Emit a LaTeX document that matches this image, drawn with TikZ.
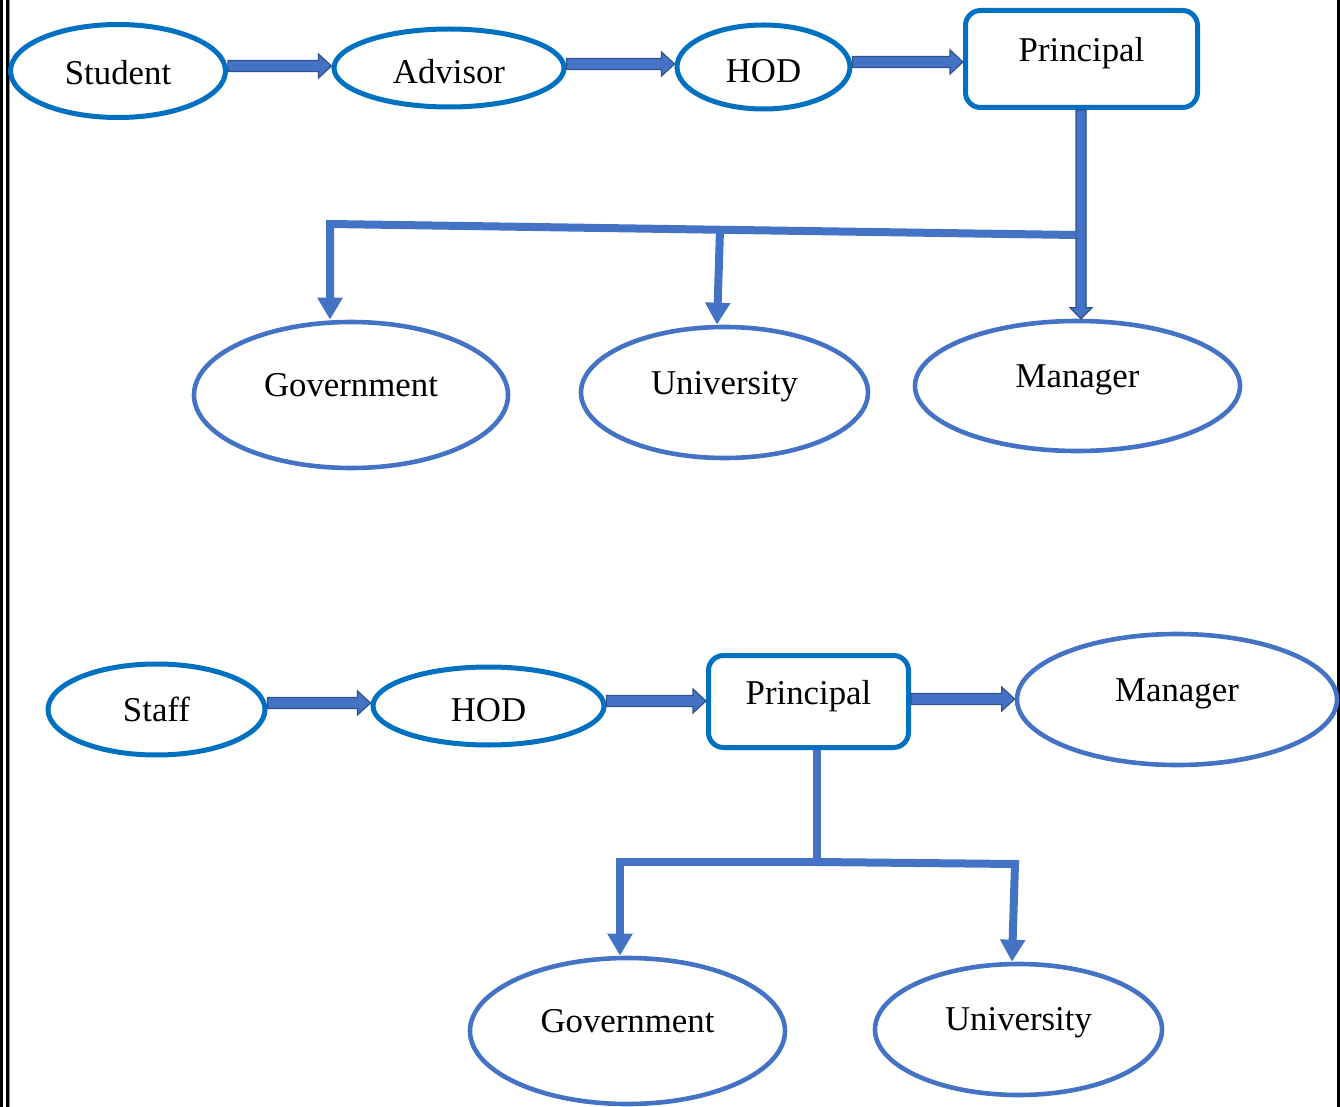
\documentclass[tikz,border=0pt]{standalone}
\usepackage{fontspec}
\setmainfont{Liberation Serif}
\usetikzlibrary{calc,shapes.geometric,arrows.meta}
\definecolor{cA}{HTML}{0070C0}
\definecolor{cB}{HTML}{4472C4}
\definecolor{cD}{HTML}{2F528F}
% horizontal block arrow: from node anchor #1 to node anchor #2 at height #3
\newcommand\harr[3]{\draw[blk] ($(#1|-0,#3)+(0,-5.5)$) -- ($(#2|-0,#3)+(-13,-5.5)$) -- ($(#2|-0,#3)+(-13,-12)$) -- (#2|-0,#3) -- ($(#2|-0,#3)+(-13,12)$) -- ($(#2|-0,#3)+(-13,5.5)$) -- ($(#1|-0,#3)+(0,5.5)$) -- cycle;}
% vertical block arrow: from node anchor #1 to node anchor #2 at x #3
\newcommand\varr[3]{\draw[blk] ($(#1-|#3,0)+(-5,0)$) -- ($(#2-|#3,0)+(-5,-11)$) -- ($(#2-|#3,0)+(-11,-11)$) -- (#2-|#3,0) -- ($(#2-|#3,0)+(11,-11)$) -- ($(#2-|#3,0)+(5,-11)$) -- ($(#1-|#3,0)+(5,0)$) -- cycle;}
\begin{document}
\begin{tikzpicture}[x=0.5pt,y=-0.5pt,
  lbl/.style={font=\fontsize{17.4}{20}\selectfont, inner sep=0pt, text height=0.7em, text depth=0.25em},
  ellA/.style={ellipse, draw=cA, line width=2.5pt, inner sep=0pt},
  ellB/.style={ellipse, draw=cB, line width=2.3pt, inner sep=0pt},
  boxA/.style={rectangle, rounded corners=7.5pt, draw=cA, line width=2.5pt, inner sep=0pt},
  blk/.style={fill=cB, draw=cD, line width=0.6pt, line join=miter},
  conn/.style={draw=cB, line width=4pt, line join=miter, -{Triangle[width=12pt,length=11pt]}},
  connplain/.style={draw=cB, line width=4pt, line join=miter}
]
\useasboundingbox (0,0) rectangle (1340,1107);
% page border lines
\fill[black] (0,0) rectangle (2.5,1107);
\fill[black] (6,0) rectangle (9,1107);
\fill[black!45] (9,0) rectangle (10,1107);
\fill[black] (1337,0) rectangle (1340,1107);

% ---------- top diagram ----------
\node[ellA, minimum width=107.5pt, minimum height=46.5pt, label={[lbl,yshift=-4.5pt]center:Student}] (S1) at (118,71) {};
\node[ellA, minimum width=115pt, minimum height=39pt, label={[lbl,yshift=-5.5pt]center:Advisor}] (A1) at (449,68) {};
\node[ellA, minimum width=86.5pt, minimum height=42pt, label={[lbl,yshift=-5.5pt]center:HOD}] (H1) at (763.5,67) {};
\node[boxA, minimum width=116pt, minimum height=48.5pt, label={[lbl,yshift=1pt]center:Principal}] (P1) at (1081.5,59) {};
\node[ellB, minimum width=157pt, minimum height=73pt, label={[lbl,yshift=1.5pt]center:Government}] (G1) at (351,395) {};
\node[ellB, minimum width=143.5pt, minimum height=65.5pt, label={[lbl,yshift=1.5pt]center:University}] (U1) at (724.5,392.5) {};
\node[ellB, minimum width=162.5pt, minimum height=65pt, label={[lbl,yshift=1.5pt]center:Manager}] (M1) at (1077.5,386) {};

\harr{S1.east}{A1.west}{66}
\harr{A1.east}{H1.west}{64}
\harr{H1.east}{P1.west}{62}
\varr{P1.south}{M1.north}{1081}

\coordinate (j1) at ($(P1.south)+(-5.5,125)$);
\coordinate (c1) at (330,224);
\coordinate (b1) at ($(c1)!0.5228!(j1)$);
\draw[conn] (j1) -- (c1) -- (c1 |- G1.north);
\draw[conn] (b1) -- ($(b1 |- U1.north)+(-3,0)$);

% ---------- bottom diagram ----------
\node[ellA, minimum width=108.5pt, minimum height=45.5pt, label={[lbl,yshift=-3.5pt]center:Staff}] (S2) at (156.5,709.5) {};
\node[ellA, minimum width=115.5pt, minimum height=39pt, label={[lbl,yshift=-5.5pt]center:HOD}] (H2) at (488.5,706) {};
\node[boxA, minimum width=100pt, minimum height=46pt, label={[lbl,yshift=1pt]center:Principal}] (P2) at (808.5,701.5) {};
\node[ellB, minimum width=160pt, minimum height=65.5pt, label={[lbl,yshift=1.5pt]center:Manager}] (M2) at (1177,699.5) {};
\node[ellB, minimum width=157.5pt, minimum height=73pt, label={[lbl,yshift=1.5pt]center:Government}] (G2) at (627.5,1031) {};
\node[ellB, minimum width=143.5pt, minimum height=65.5pt, label={[lbl,yshift=2pt]center:University}] (U2) at (1018.5,1029.5) {};

\harr{S2.east}{H2.west}{703}
\harr{H2.east}{P2.west}{701}
\harr{P2.east}{M2.west}{699}

\coordinate (j2) at (817,862);
\coordinate (lc) at (620,862);
\coordinate (rc) at (1015,864);
\draw[connplain] ($(P2.south)+(8.5,0)$) -- (j2);
\draw[conn] (j2) -- (lc) -- (lc |- G2.north);
\draw[conn] (j2) -- (rc) -- ($(rc |- U2.north)+(-3,0)$);
\end{tikzpicture}
\end{document}
